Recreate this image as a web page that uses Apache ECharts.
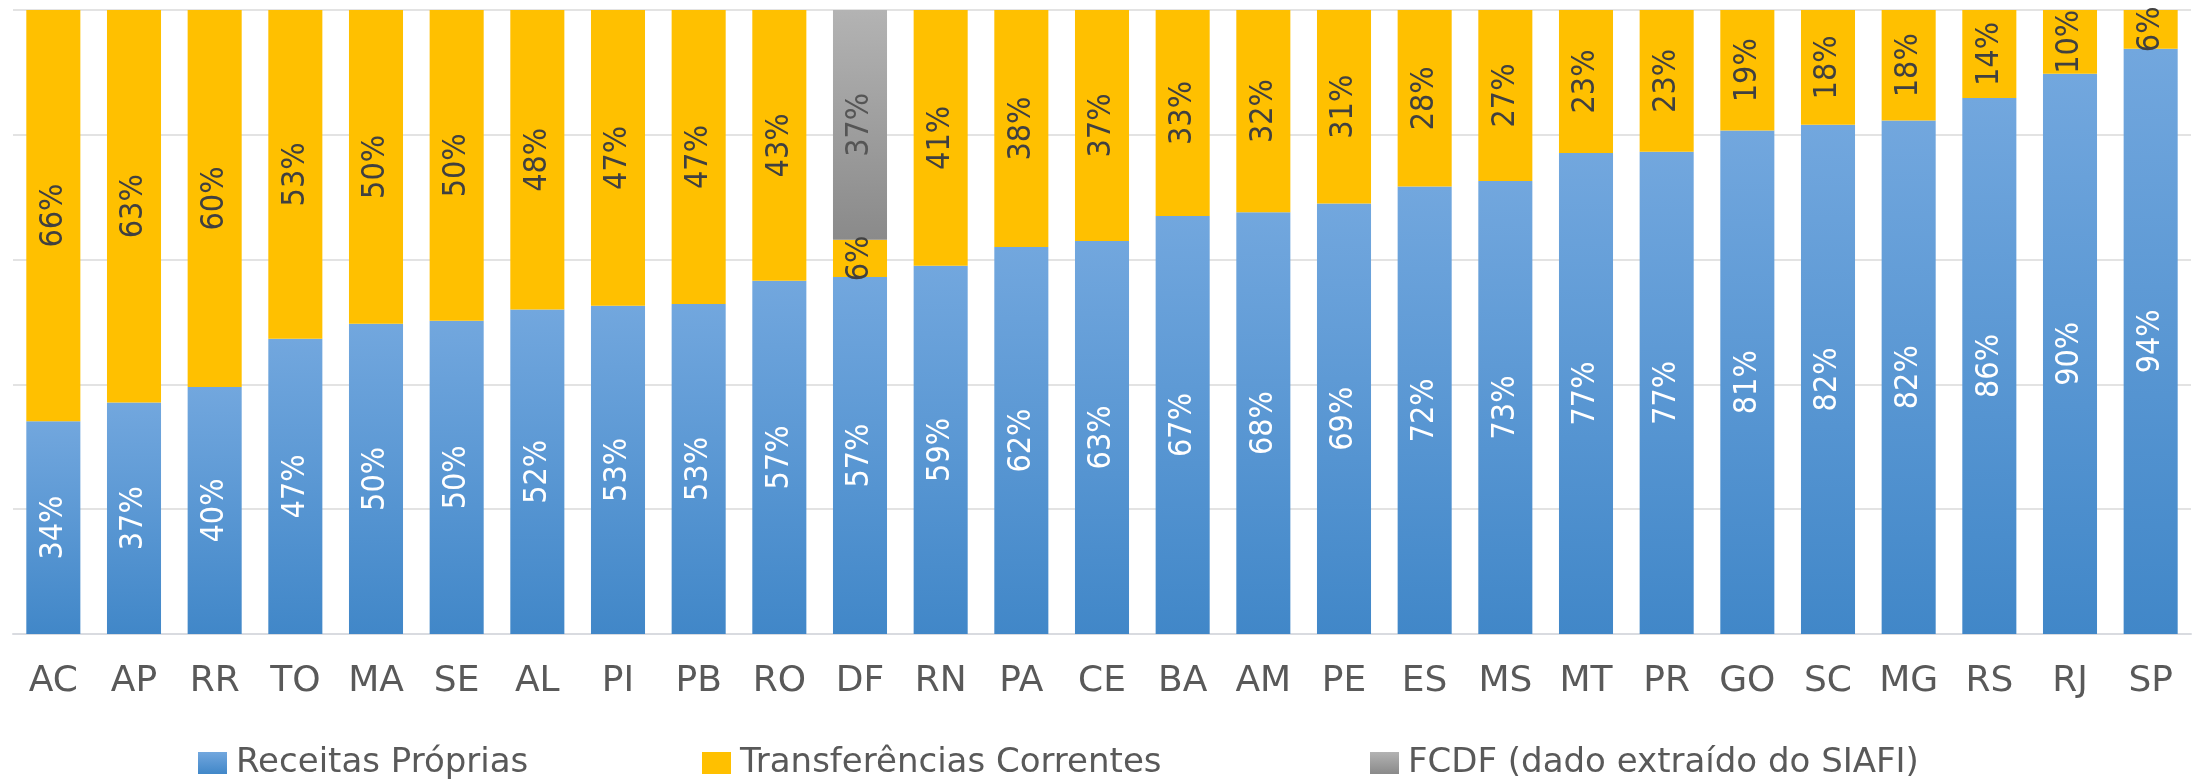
<!DOCTYPE html>
<html>
<head>
<meta charset="utf-8">
<script src="https://cdn.jsdelivr.net/npm/echarts@6/dist/echarts.min.js"></script>
<style>
html,body{margin:0;padding:0;background:#fff;}
#chart{width:2198px;height:780px;}
</style>
</head>
<body>
<div id="chart"></div>
<script>
const categories = ['AC','AP','RR','TO','MA','SE','AL','PI','PB','RO','DF','RN','PA','CE','BA','AM','PE','ES','MS','MT','PR','GO','SC','MG','RS','RJ','SP'];
const receitasProprias = [34.1,37.1,39.6,47.3,49.7,50.2,52.0,52.6,52.9,56.6,57.2,59.0,62.0,63.0,67.0,67.6,69.0,71.7,72.6,77.1,77.3,80.7,81.6,82.3,85.9,89.8,93.8];
const transferencias = [65.9,62.9,60.4,52.7,50.3,49.8,48.0,47.4,47.1,43.4,6.0,41.0,38.0,37.0,33.0,32.4,31.0,28.3,27.4,22.9,22.7,19.3,18.4,17.7,14.1,10.2,6.2];
const fcdf = [null,null,null,null,null,null,null,null,null,null,36.8,null,null,null,null,null,null,null,null,null,null,null,null,null,null,null,null];
const seriesNames = ['Receitas Próprias','Transferências Correntes','FCDF (dado extraído do SIAFI)'];

const chart = echarts.init(document.getElementById('chart'), null, {renderer:'canvas'});
const labelFont = "'Liberation Sans Narrow','DejaVu Sans Condensed','Open Sans',sans-serif";
function lbl(color){
  return {
    show:true, position:'inside', rotate:90,
    fontFamily:labelFont, fontSize:32, color:color,
    formatter:p => (p.value==null ? '' : Math.round(p.value)+'%')
  };
}
const blue = new echarts.graphic.LinearGradient(0,0,0,1,[{offset:0,color:'#72a7de'},{offset:1,color:'#4187c8'}]);
const gray = new echarts.graphic.LinearGradient(0,0,0,1,[{offset:0,color:'#b3b3b3'},{offset:1,color:'#8a8a8a'}]);

function legendAt(name, left){
  return {
    left:left, top:741, itemWidth:29, itemHeight:22,
    icon:'rect',
    textStyle:{fontFamily:"'DejaVu Sans',sans-serif",fontSize:34,color:'#595959',padding:[0,0,0,4]},
    data:[name]
  };
}

chart.setOption({
  animation:false,
  backgroundColor:'#ffffff',
  grid:{left:13,right:7,top:10,bottom:146,containLabel:false},
  legend:[legendAt(seriesNames[0],193), legendAt(seriesNames[1],697), legendAt(seriesNames[2],1365)],
  xAxis:{
    type:'category', data:categories,
    axisLine:{show:true,lineStyle:{color:'#d9dbe0',width:2}},
    axisTick:{show:false},
    axisLabel:{fontFamily:"'DejaVu Sans',sans-serif",fontSize:36,color:'#595959',margin:30}
  },
  yAxis:{
    type:'value', min:0, max:100, interval:20,
    axisLabel:{show:false}, axisLine:{show:false}, axisTick:{show:false},
    splitLine:{lineStyle:{color:'#e3e3e3',width:2}}
  },
  series:[
    {name:seriesNames[0], type:'bar', stack:'t', barWidth:'67%', data:receitasProprias,
     itemStyle:{color:blue}, label:lbl('#ffffff')},
    {name:seriesNames[1], type:'bar', stack:'t', barWidth:'67%', data:transferencias,
     itemStyle:{color:'#ffc000'}, label:lbl('#404040')},
    {name:seriesNames[2], type:'bar', stack:'t', barWidth:'67%', data:fcdf,
     itemStyle:{color:gray}, label:lbl('#555555')}
  ]
});
</script>
</body>
</html>
